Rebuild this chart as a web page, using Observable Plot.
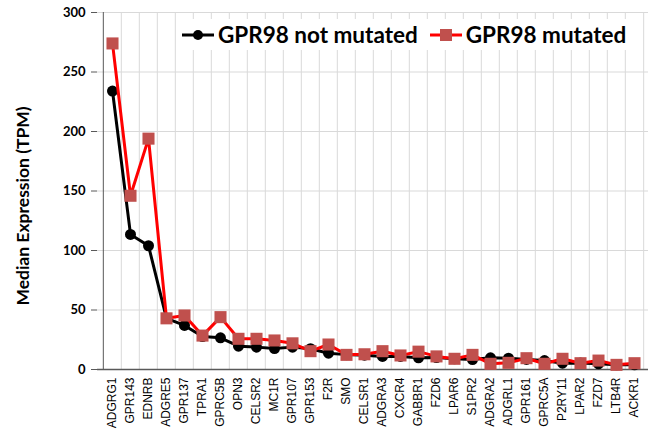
<!DOCTYPE html>
<html>
<head>
<meta charset="utf-8">
<script src="https://cdn.jsdelivr.net/npm/d3@7"></script>
<script src="https://cdn.jsdelivr.net/npm/@observablehq/plot@0.6"></script>
<style>
  html, body { margin: 0; padding: 0; background: #fff; }
  #wrap { position: relative; width: 654px; height: 431px; }
  #legend { position: absolute; top: 19px; left: 178px; background: #fff; display: flex; align-items: center;
    font-family: Lato, "Open Sans", sans-serif; font-weight: bold; font-size: 22.5px; color: #000; padding: 2px 4px; }
  #legend .item { display: flex; align-items: center; margin-right: 12px; }
  #legend svg { margin-right: 4px; }
  #ylabel { position: absolute; left: 22px; top: 206px; transform: translate(-50%, -50%) rotate(-90deg);
    font-family: Lato, "Open Sans", sans-serif; font-weight: bold; font-size: 17.5px; white-space: nowrap; color: #000; }
</style>
</head>
<body>
<div id="wrap">
  <div id="chart"></div>
  <div id="legend">
    <div class="item"><svg width="32" height="14"><line x1="0" y1="7" x2="32" y2="7" stroke="#000" stroke-width="3"/><circle cx="16" cy="7" r="5" fill="#000"/></svg>GPR98 not mutated</div>
    <div class="item"><svg width="32" height="14"><line x1="0" y1="7" x2="32" y2="7" stroke="#ff0000" stroke-width="3"/><rect x="10" y="1" width="12" height="12" fill="#c0504d"/></svg>GPR98 mutated</div>
  </div>
  <div id="ylabel">Median Expression (TPM)</div>
</div>
<script>
const categories = ["ADGRG1","GPR143","EDNRB","ADGRE5","GPR137","TPRA1","GPRC5B","OPN3","CELSR2","MC1R","GPR107","GPR153","F2R","SMO","CELSR1","ADGRA3","CXCR4","GABBR1","FZD6","LPAR6","S1PR2","ADGRA2","ADGRL1","GPR161","GPRC5A","P2RY11","LPAR2","FZD7","LTB4R","ACKR1"];
const notMutated = [234,113.5,104,43,37,27.7,26.6,19.6,18.8,17.6,18.8,17.5,13.7,12.5,12,11,11,9.8,10,9,8.4,9.8,9.5,8.5,7.5,5.3,5.5,4.8,4,4];
const mutated = [274,146,194,43,45.4,28.5,44,25.8,25.8,24.4,22,15.4,21,12.3,12.8,15.4,11.8,15,11,9,12.3,4.8,5.6,9.5,4.8,9,5.3,7.5,3.9,5.3];
const yTicks = [0,50,100,150,200,250,300];

const W = 654, H = 431, mL = 97, mR = 6, mT = 12, mB = 62;
const step = (W - mL - mR) / categories.length;
const rows = (vals) => categories.map((c, i) => ({gene: c, value: vals[i]}));
const grid = "#d9d9d9", axisCol = "#595959";

const chart = Plot.plot({
  width: W, height: H,
  marginLeft: mL, marginRight: mR, marginTop: mT, marginBottom: mB,
  style: {fontFamily: "Liberation Sans, Arial, sans-serif", fontSize: "12px", color: "#000", background: "#fff"},
  x: {type: "point", domain: categories, padding: 0.5, label: null},
  y: {domain: [0, 300], label: null},
  marks: [
    Plot.ruleY(yTicks.slice(1), {stroke: grid, strokeWidth: 1}),
    Plot.ruleX(categories.slice(1), {dx: -step / 2, stroke: grid}),
    Plot.ruleX([categories[categories.length - 1]], {dx: step / 2, stroke: grid}),
    Plot.ruleX([categories[0]], {dx: -step / 2, stroke: axisCol, strokeWidth: 1}),
    Plot.ruleY([0], {stroke: axisCol, strokeWidth: 1.3}),
    Plot.axisY({ticks: yTicks, tickSize: 6, tickPadding: 6, stroke: axisCol, fontSize: 13, fontWeight: "bold", fontFamily: "Lato, Open Sans, sans-serif"}),
    Plot.axisX({tickSize: 0, tickPadding: 8, tickRotate: -90, fontSize: 12}),
    Plot.line(rows(notMutated), {x: "gene", y: "value", stroke: "#000", strokeWidth: 3}),
    Plot.dot(rows(notMutated), {x: "gene", y: "value", fill: "#000", r: 5.5}),
    Plot.line(rows(mutated), {x: "gene", y: "value", stroke: "#ff0000", strokeWidth: 3}),
    Plot.dot(rows(mutated), {x: "gene", y: "value", fill: "#c0504d", symbol: "square", r: 6.8})
  ]
});
document.getElementById("chart").appendChild(chart);
</script>
</body>
</html>
